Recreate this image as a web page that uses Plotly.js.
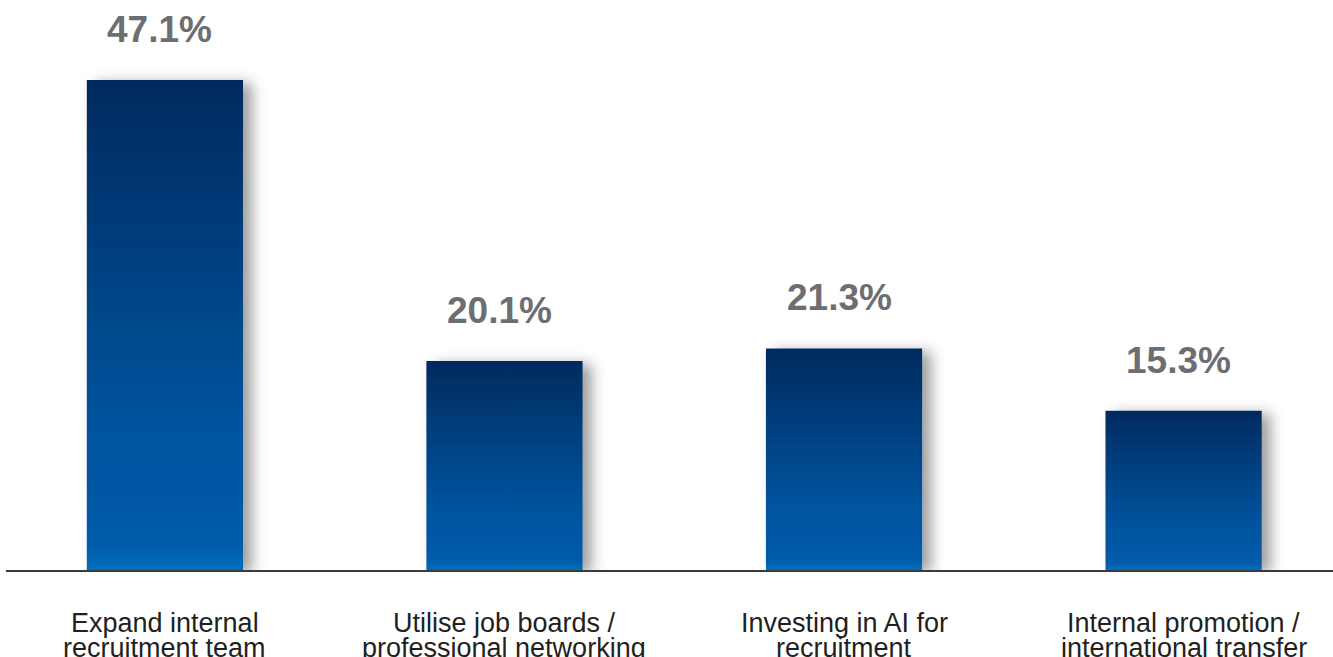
<!DOCTYPE html>
<html>
<head>
<meta charset="utf-8">
<script src="https://cdn.plot.ly/plotly-3.0.1.min.js"></script>
<style>
html,body{margin:0;padding:0;background:#fff;}
#chart{width:1333px;height:657px;}
</style>
</head>
<body>
<div id="chart"></div>
<script>
// Data
var categories = ["Expand internal", "Utilise job boards /", "Investing in AI for", "Internal promotion /"];
var categoryLine2 = ["recruitment team", "professional networking", "recruitment", "international transfer"];
var values = [47.1, 20.1, 21.3, 15.3];
var valueLabels = ["47.1%", "20.1%", "21.3%", "15.3%"];

var trace = {
  type: 'bar',
  x: categories,
  y: values,
  width: 0.46,
  marker: {color: '#004a90', line: {width: 0}},
  hoverinfo: 'none',
  cliponaxis: false
};

var annotations = [];
for (var i = 0; i < categories.length; i++) {
  annotations.push({
    x: categories[i], y: values[i], xref: 'x', yref: 'y',
    text: '<b>' + valueLabels[i] + '</b>', showarrow: false,
    yanchor: 'bottom', xanchor: 'center', yshift: 28, xshift: -5,
    font: {family: 'Liberation Sans, Arial, sans-serif', size: 37, color: '#6d6e71'}
  });
  annotations.push({
    x: categories[i], y: 0, xref: 'x', yref: 'paper',
    text: categories[i], showarrow: false,
    yanchor: 'top', xanchor: 'center', yshift: -36,
    font: {family: 'Liberation Sans, Arial, sans-serif', size: 27, color: '#231f20'}
  });
  annotations.push({
    x: categories[i], y: 0, xref: 'x', yref: 'paper',
    text: categoryLine2[i], showarrow: false,
    yanchor: 'top', xanchor: 'center', yshift: -61,
    font: {family: 'Liberation Sans, Arial, sans-serif', size: 27, color: '#231f20'}
  });
}

var layout = {
  width: 1333, height: 657,
  margin: {l: 6, r: 0, t: 0, b: 87, pad: 0},
  paper_bgcolor: '#ffffff', plot_bgcolor: '#ffffff',
  showlegend: false,
  xaxis: {
    type: 'category', range: [-0.468, 3.44],
    showline: true, linecolor: '#3a3a3a', linewidth: 2,
    showticklabels: false, ticks: '', showgrid: false, zeroline: false,
    layer: 'below traces', fixedrange: true
  },
  yaxis: {
    range: [0, 54.8], visible: false, showgrid: false, zeroline: false, fixedrange: true
  },
  annotations: annotations
};

Plotly.newPlot('chart', [trace], layout, {displayModeBar: false, staticPlot: true}).then(function(gd){
  var svg = gd.querySelector('svg.main-svg');
  var ns = 'http://www.w3.org/2000/svg';
  var defs = document.createElementNS(ns, 'defs');
  defs.innerHTML =
    '<linearGradient id="barGrad" x1="0" y1="0" x2="0" y2="1">' +
      '<stop offset="0" stop-color="#022a5e"/>' +
      '<stop offset="0.35" stop-color="#013f7e"/>' +
      '<stop offset="0.7" stop-color="#00539d"/>' +
      '<stop offset="0.95" stop-color="#005ba9"/>' +
      '<stop offset="1" stop-color="#0070bd"/>' +
    '</linearGradient>' +
    '<filter id="barShadow" x="-20%" y="-20%" width="150%" height="140%">' +
      '<feDropShadow dx="9" dy="3" stdDeviation="7" flood-color="#000" flood-opacity="0.38"/>' +
    '</filter>';
  svg.insertBefore(defs, svg.firstChild);
  var paths = gd.querySelectorAll('.trace.bars .point path');
  paths.forEach(function(p){
    p.style.fill = 'url(#barGrad)';
    p.setAttribute('filter', 'url(#barShadow)');
  });
});
</script>
</body>
</html>
